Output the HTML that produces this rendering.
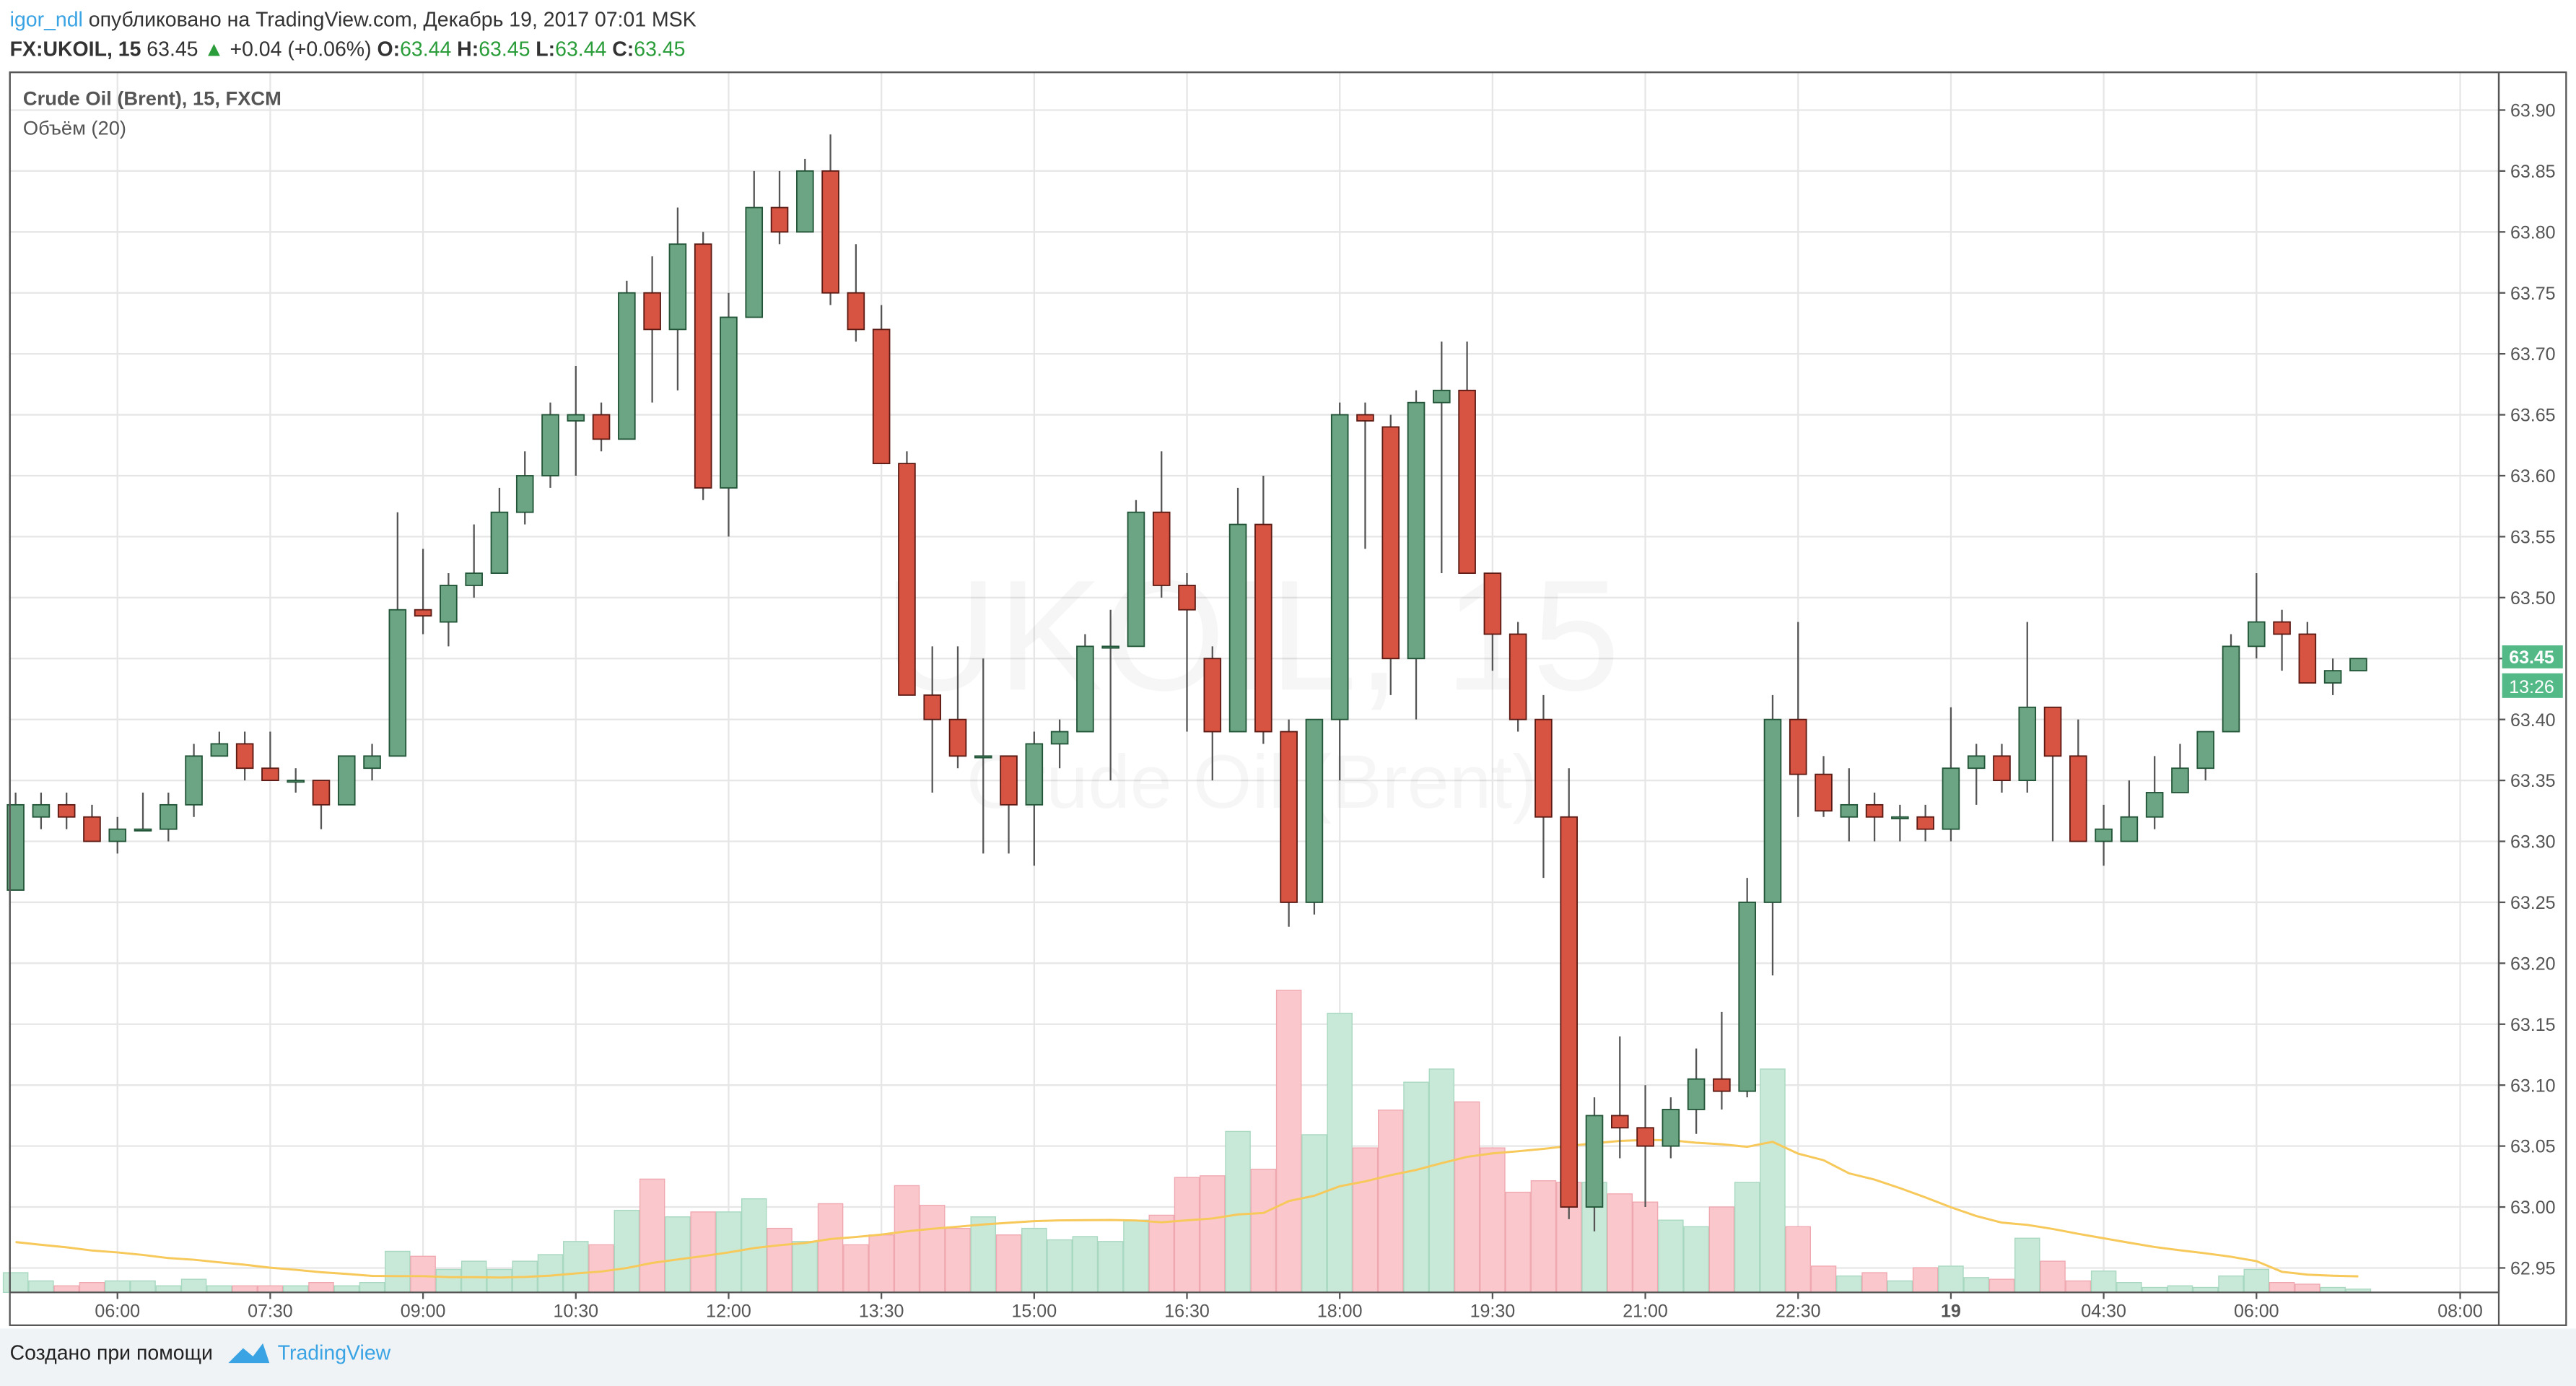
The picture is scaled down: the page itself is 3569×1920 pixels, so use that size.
<!DOCTYPE html>
<html><head><meta charset="utf-8"><style>
html,body{margin:0;padding:0;background:#fff;width:3569px;height:1920px;overflow:hidden}
svg{display:block}
text{font-family:"Liberation Sans","DejaVu Sans",sans-serif}
</style></head><body>
<svg id="chart" width="3569" height="1920" viewBox="0 0 1568 844" preserveAspectRatio="none" xmlns="http://www.w3.org/2000/svg">
<rect x="0" y="0" width="1568" height="844" fill="#fff"/>
<rect x="0" y="809" width="1568" height="35" fill="#f0f3f6"/>
<text x="6" y="16" font-size="12.5"><tspan fill="#3aa3e3">igor_ndl</tspan><tspan fill="#333"> опубликовано на TradingView.com, Декабрь 19, 2017 07:01 MSK</tspan></text>
<text x="6" y="34" font-size="12.5" font-weight="bold" fill="#333">FX:UKOIL, 15 <tspan font-weight="normal">63.45 </tspan><tspan fill="#2a9d3a">▲</tspan><tspan font-weight="normal"> +0.04 (+0.06%) </tspan>O:<tspan fill="#2a9d3a" font-weight="normal">63.44</tspan> H:<tspan fill="#2a9d3a" font-weight="normal">63.45</tspan> L:<tspan fill="#2a9d3a" font-weight="normal">63.44</tspan> C:<tspan fill="#2a9d3a" font-weight="normal">63.45</tspan></text>
<g id="grid"></g>
<text x="762" y="420" font-size="96" fill="#000" fill-opacity="0.035" text-anchor="middle">UKOIL, 15</text>
<text x="762" y="492" font-size="46" fill="#000" fill-opacity="0.035" text-anchor="middle">Crude Oil (Brent)</text>
<g id="vol"></g><path id="ma" fill="none" stroke="#f7c85a" stroke-width="1.3"/>
<g id="candles"></g>
<rect x="6" y="44" width="1515" height="743" fill="none" stroke="#555" stroke-width="1"/>
<rect x="6" y="44" width="1556" height="763" fill="none" stroke="#555" stroke-width="1"/>
<line x1="1521" y1="44" x2="1521" y2="807" stroke="#555"/>
<g id="yax"></g><g id="xax"></g>
<text x="14" y="64" font-size="12" font-weight="bold" fill="#555">Crude Oil (Brent), 15, FXCM</text>
<text x="14" y="82" font-size="12" fill="#555">Объём (20)</text>
<g><rect x="1523" y="393" width="37" height="14" fill="#53b987"/><text x="1541" y="404" font-size="11" fill="#fff" text-anchor="middle" font-weight="bold">63.45</text>
<rect x="1523" y="410" width="37" height="15" fill="#53b987"/><text x="1541" y="422" font-size="11" fill="#fff" text-anchor="middle">13:26</text></g>
<text x="6" y="828" font-size="12.5" fill="#222">Создано при помощи</text>
<path d="M139 830 L148 821 L154 826 L160 818 L164 830 Z" fill="#3aa3e3"/>
<text x="169" y="828" font-size="12.5" fill="#3aa3e3">TradingView</text>
</svg>
<script>
const opens=[63.26,63.32,63.33,63.32,63.30,63.31,63.31,63.33,63.37,63.38,63.36,63.35,63.35,63.33,63.36,63.37,63.49,63.48,63.51,63.52,63.57,63.60,63.645,63.65,63.63,63.75,63.72,63.79,63.59,63.73,63.82,63.80,63.85,63.75,63.72,63.61,63.42,63.40,63.37,63.37,63.33,63.38,63.39,63.46,63.46,63.57,63.51,63.45,63.39,63.56,63.39,63.25,63.40,63.65,63.64,63.45,63.66,63.67,63.52,63.47,63.40,63.32,63.00,63.075,63.065,63.05,63.08,63.105,63.095,63.25,63.40,63.355,63.32,63.33,63.32,63.32,63.31,63.36,63.37,63.35,63.41,63.37,63.30,63.30,63.32,63.34,63.36,63.39,63.46,63.48,63.47,63.43,63.44];
const closes=[63.33,63.33,63.32,63.30,63.31,63.31,63.33,63.37,63.38,63.36,63.35,63.35,63.33,63.37,63.37,63.49,63.485,63.51,63.52,63.57,63.60,63.65,63.65,63.63,63.75,63.72,63.79,63.59,63.73,63.82,63.80,63.85,63.75,63.72,63.61,63.42,63.40,63.37,63.37,63.33,63.38,63.39,63.46,63.46,63.57,63.51,63.49,63.39,63.56,63.39,63.25,63.40,63.65,63.645,63.45,63.66,63.67,63.52,63.47,63.40,63.32,63.00,63.075,63.065,63.05,63.08,63.105,63.095,63.25,63.40,63.355,63.325,63.33,63.32,63.32,63.31,63.36,63.37,63.35,63.41,63.37,63.30,63.31,63.32,63.34,63.36,63.39,63.46,63.48,63.47,63.43,63.44,63.45];
const highs=[63.34,63.34,63.34,63.33,63.32,63.34,63.34,63.38,63.39,63.39,63.39,63.36,63.35,63.37,63.38,63.57,63.54,63.52,63.56,63.59,63.62,63.66,63.69,63.66,63.76,63.78,63.82,63.80,63.75,63.85,63.85,63.86,63.88,63.79,63.74,63.62,63.46,63.46,63.45,63.37,63.39,63.40,63.47,63.49,63.58,63.62,63.52,63.46,63.59,63.60,63.40,63.40,63.66,63.66,63.65,63.67,63.71,63.71,63.52,63.48,63.42,63.36,63.09,63.14,63.10,63.09,63.13,63.16,63.27,63.42,63.48,63.37,63.36,63.34,63.33,63.33,63.41,63.38,63.38,63.48,63.41,63.40,63.33,63.35,63.37,63.38,63.39,63.47,63.52,63.49,63.48,63.45,63.45];
const lows=[63.26,63.31,63.31,63.30,63.29,63.31,63.30,63.32,63.37,63.35,63.35,63.34,63.31,63.33,63.35,63.37,63.47,63.46,63.50,63.52,63.56,63.59,63.60,63.62,63.63,63.66,63.67,63.58,63.55,63.73,63.79,63.80,63.74,63.71,63.61,63.42,63.34,63.36,63.29,63.29,63.28,63.36,63.39,63.35,63.46,63.50,63.39,63.35,63.39,63.38,63.23,63.24,63.35,63.54,63.42,63.40,63.52,63.52,63.44,63.39,63.27,62.99,62.98,63.04,63.00,63.04,63.06,63.08,63.09,63.19,63.32,63.32,63.30,63.30,63.30,63.30,63.30,63.33,63.34,63.34,63.30,63.30,63.28,63.30,63.31,63.34,63.35,63.39,63.45,63.44,63.43,63.42,63.44];
const volumes=[12,7,4,6,7,7,4,8,4,4,4,4,6,4,6,25,22,14,19,14,19,23,31,29,50,69,46,49,49,57,39,31,54,29,35,65,53,39,46,35,39,32,34,31,44,47,70,71,98,75,184,96,170,88,111,128,136,116,88,61,68,67,67,60,55,44,40,52,67,136,40,16,10,12,7,15,16,9,8,33,19,7,13,6,3,4,3,10,14,6,5,3,2];
const priorVolumes=[40,35,45,30,38,42,28,36,33,40,30,35,25,30,28,22,26,20,18];
const priceTicks=[62.95,63.00,63.05,63.10,63.15,63.20,63.25,63.30,63.35,63.40,63.45,63.50,63.55,63.60,63.65,63.70,63.75,63.80,63.85,63.90];
const timeLabels=["06:00","07:30","09:00","10:30","12:00","13:30","15:00","16:30","18:00","19:30","21:00","22:30","19","04:30","06:00","08:00"];
const timeLabelIdx=[4,10,16,22,28,34,40,46,52,58,64,70,76,82,88,96];

const NS="http://www.w3.org/2000/svg";
const X=i=>9.5+15.5*i;
const Y=p=>735-(p-63)*742.2;
const VY=v=>787-v;
function mk(t,a,parent){const e=document.createElementNS(NS,t);for(const k in a)e.setAttribute(k,a[k]);parent.appendChild(e);return e;}
const grid=document.getElementById('grid'),yax=document.getElementById('yax'),xax=document.getElementById('xax');
priceTicks.forEach(p=>{
  const l=mk('line',{x1:6,x2:1521,y1:Y(p),y2:Y(p),stroke:'#e6e6e6'},grid);
  
  
  mk('line',{x1:1521,x2:1525,y1:Y(p),y2:Y(p),stroke:'#555'},yax);
  const t=mk('text',{x:1528,y:Y(p)+4,'font-size':11,fill:'#555'},yax);t.textContent=p.toFixed(2);
  
  
});
timeLabels.forEach((s,k)=>{
  const x=X(timeLabelIdx[k]);
  const l=mk('line',{x1:x,x2:x,y1:44,y2:787,stroke:'#e6e6e6'},grid);
  
  
  mk('line',{x1:x,x2:x,y1:787,y2:791,stroke:'#555'},xax);
  const t=mk('text',{x:x,y:802,'font-size':11,fill:'#555','text-anchor':'middle','font-weight':s==='19'?'bold':'normal'},xax);t.textContent=s;
  
  
});
const vol=document.getElementById('vol');
volumes.forEach((v,i)=>{
  const up=closes[i]>=opens[i];
  const r=mk('rect',{x:X(i)-7.5,y:VY(v),width:15,height:v,fill:up?'#c8e8d8':'#f9c7cc',stroke:up?'#a8d8c0':'#f0a8b0','stroke-width':0.6},vol);
  
  
});
const allV=priorVolumes.concat(volumes),off=priorVolumes.length;
let d='';
volumes.forEach((v,i)=>{const j=i+off;const s=allV.slice(Math.max(0,j-19),j+1);const m=s.reduce((a,b)=>a+b,0)/s.length;d+=(i?'L':'M')+X(i)+' '+VY(m);});
document.getElementById('ma').setAttribute('d',d);
const cg=document.getElementById('candles');
opens.forEach((o,i)=>{
  const c=closes[i],up=c>=o,x=X(i);
  const g=mk('g',{},cg);
  
  
  const bc=up?'#225437':'#5b1a13';
  mk('line',{x1:x,x2:x,y1:Y(highs[i]),y2:Y(lows[i]),stroke:'#555','stroke-width':1},g);
  const t=Y(Math.max(o,c)),b=Y(Math.min(o,c));
  mk('rect',{x:x-5,y:t,width:10,height:Math.max(1,b-t),fill:up?'#6ba583':'#d75442',stroke:bc,'stroke-width':0.8},g);
});
</script>
</body></html>
